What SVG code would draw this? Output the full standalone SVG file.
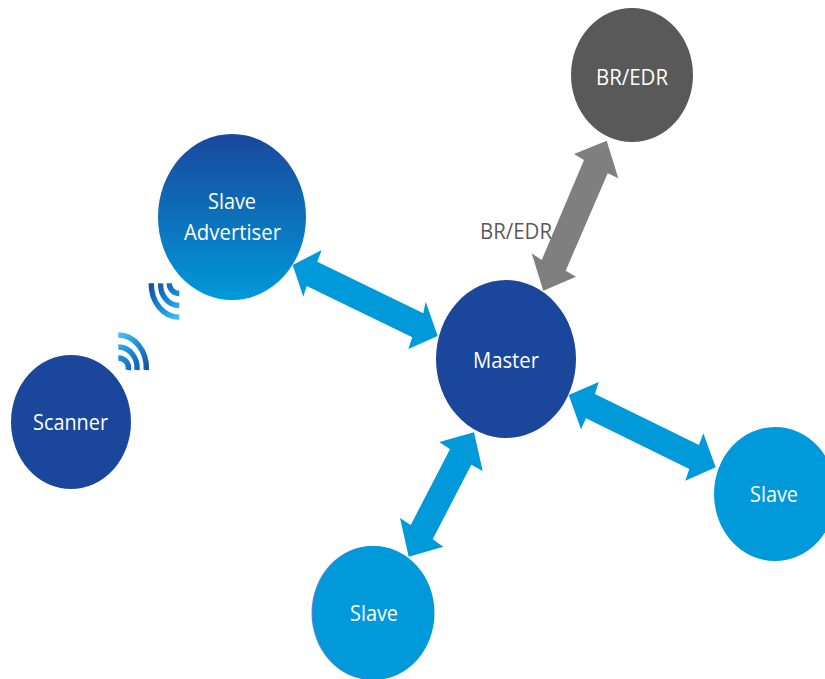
<svg xmlns="http://www.w3.org/2000/svg" width="825" height="679" viewBox="0 0 825 679">
<style>
text{font-family:"Open Sans","Noto Sans","Liberation Sans",sans-serif;font-size:22px;text-anchor:middle}
.t{fill:#fff}.l{fill:#595959}
.g{fill:#7f7f7f}.b{fill:#0099d9}
.w{fill:none;stroke-width:5.4;stroke-linecap:butt}
</style>
<defs>
<linearGradient id="adv" x1="0" y1="0" x2="0" y2="1"><stop offset="0" stop-color="#1a479c"/><stop offset="1" stop-color="#0099da"/></linearGradient>
<linearGradient id="w1" gradientUnits="userSpaceOnUse" x1="150" y1="285" x2="180" y2="318"><stop offset="0" stop-color="#14509f"/><stop offset=".55" stop-color="#1a8ad6"/><stop offset="1" stop-color="#45c3f5"/></linearGradient>
<linearGradient id="w2" gradientUnits="userSpaceOnUse" x1="118" y1="335" x2="148" y2="370"><stop offset="0" stop-color="#45c3f5"/><stop offset=".45" stop-color="#1a8ad6"/><stop offset="1" stop-color="#14509f"/></linearGradient>
</defs>
<rect width="825" height="679" fill="#fff"/>
<text class="l" x="516" y="239" textLength="72" lengthAdjust="spacingAndGlyphs">BR/EDR</text>
<g id="connectors">
<polygon class="g" points="606.7,140.7 574,154 584,160 541.7,260 531.7,253.3 543.3,290.7 576,276.7 565.7,270.7 607.7,173.3 618.3,178.3"/>
<polygon class="b" points="292.7,265 321.7,250 317.3,261.7 423.3,313.3 425.7,301.7 437.7,336 408.3,349 412.3,337.3 306.7,286 303.3,296.7"/>
<polygon class="b" points="474,432.3 439.3,442 450,449.3 410.7,525 400,518 408.7,556.7 443.3,546.7 432.7,539.3 471.3,464.7 482.7,471"/>
<polygon class="b" points="568.7,395 598.7,382 595,394 699,445 703.3,433.3 715.7,467.3 685.3,480.7 689.3,469 586,418.3 581,429.3"/>
</g>
<g id="br-edr"><ellipse cx="632" cy="75" rx="61" ry="67" fill="#595959"/><text class="t" x="632" y="85" textLength="72" lengthAdjust="spacingAndGlyphs">BR/EDR</text></g>
<g id="slave-advertiser"><ellipse cx="232" cy="217" rx="74" ry="83" fill="url(#adv)"/><text class="t" x="232" y="209" textLength="48" lengthAdjust="spacingAndGlyphs">Slave</text><text class="t" x="232.500" y="240" textLength="97" lengthAdjust="spacingAndGlyphs">Advertiser</text></g>
<g id="master"><ellipse cx="506" cy="359" rx="70" ry="79" fill="#1a479c"/><text class="t" x="506" y="368" textLength="66" lengthAdjust="spacingAndGlyphs">Master</text></g>
<g id="scanner"><ellipse cx="71" cy="422" rx="60" ry="67" fill="#1a479c"/><text class="t" x="70.500" y="430" textLength="75" lengthAdjust="spacingAndGlyphs">Scanner</text></g>
<g id="slave-right"><ellipse cx="775" cy="494" rx="61" ry="67" fill="#0099d9"/><text class="t" x="774" y="502" textLength="48" lengthAdjust="spacingAndGlyphs">Slave</text></g>
<g id="slave-bottom"><ellipse cx="372.500" cy="613" rx="61" ry="67" fill="#6a80d6"/><ellipse cx="373.500" cy="613" rx="61" ry="67" fill="#0099d9"/><text class="t" x="374" y="621" textLength="48" lengthAdjust="spacingAndGlyphs">Slave</text></g>
<g id="signal-advertiser">
<path class="w" stroke="url(#w1)" d="M151.300 283.300A28 33 0 0 0 179.300 317.300"/>
<path class="w" stroke="url(#w1)" d="M160.600 283.300A18.700 21 0 0 0 179.300 305.500"/>
<path class="w" stroke="url(#w1)" d="M169.300 283.300A10 10 0 0 0 179.300 293.500"/>
</g>
<g id="signal-scanner">
<path class="w" stroke="url(#w2)" d="M118.300 335A28 33 0 0 1 146.300 370"/>
<path class="w" stroke="url(#w2)" d="M118.300 347A18.700 21 0 0 1 137 370"/>
<path class="w" stroke="url(#w2)" d="M118.300 358A10 10 0 0 1 128.300 370"/>
</g>
</svg>
